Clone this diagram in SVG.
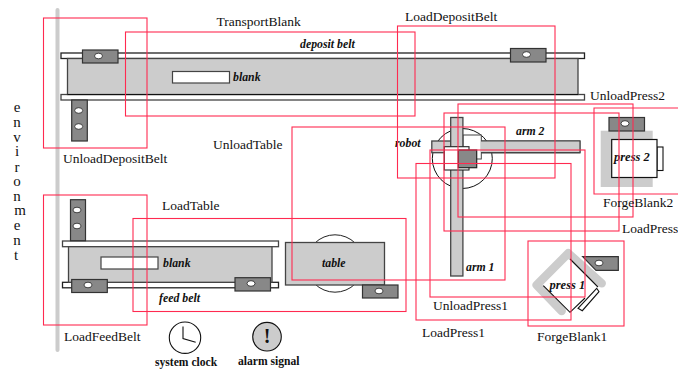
<svg xmlns="http://www.w3.org/2000/svg" width="678" height="370" viewBox="0 0 678 370">
<style>
text{font-family:"Liberation Serif","Times New Roman",serif;fill:#111}
.l{font-size:13.5px}
.b{font-size:11.8px;font-weight:bold;font-style:italic}
.s{font-size:11.6px;font-weight:bold}
.rail{fill:#fff;stroke:#222;stroke-width:1.3}
.body{fill:#ccc;stroke:#444;stroke-width:1.3}
.grip{fill:#888;stroke:#333;stroke-width:1.2}
.hole{fill:#fff;stroke:#222;stroke-width:.8}
.blank{fill:#fff;stroke:#444;stroke-width:1.2}
.r{fill:none;stroke:#ff2a50;stroke-width:1.1}
</style>
<rect width="678" height="370" fill="#fff"/>
<g id="environment">
<line x1="57.5" y1="10" x2="57.5" y2="350" stroke="#ccc" stroke-width="4" stroke-linecap="round"/>
<text style="font-size:15px" text-anchor="middle"><tspan x="17" y="111.5">e</tspan><tspan x="17" y="126.5">n</tspan><tspan x="17" y="141.5">v</tspan><tspan x="17" y="156">i</tspan><tspan x="17" y="171.5">r</tspan><tspan x="17" y="186">o</tspan><tspan x="17" y="200.5">n</tspan><tspan x="20" y="215">m</tspan><tspan x="17" y="230">e</tspan><tspan x="17" y="245">n</tspan><tspan x="16" y="260">t</tspan></text>
</g>
<g id="deposit-belt">
<rect class="rail" x="61" y="53" width="523.5" height="5.5"/>
<rect class="rail" x="61" y="94.5" width="523.5" height="5.5" style="stroke:#444"/>
<rect class="body" x="67.5" y="58.5" width="510.5" height="36"/>
<line x1="67.5" y1="94.5" x2="578" y2="94.5" stroke="#111" stroke-width="1.2"/>
<rect class="blank" x="172.5" y="71.5" width="57" height="11.5"/>
<text class="b" x="233" y="81">blank</text>
<text class="b" x="300" y="48">deposit belt</text>
<rect class="grip" x="82.5" y="50" width="35.5" height="13"/><ellipse class="hole" cx="98.5" cy="56" rx="4" ry="2.8"/>
<rect class="grip" x="510.5" y="48.5" width="35.5" height="13.5"/><ellipse class="hole" cx="526.5" cy="54.5" rx="4" ry="2.8"/>
<rect class="grip" x="71.7" y="100" width="15.6" height="41"/><ellipse class="hole" cx="78.7" cy="110.5" rx="4" ry="2.8"/><ellipse class="hole" cx="78.7" cy="126.5" rx="4" ry="2.8"/>
</g>
<g id="feed-belt">
<rect class="rail" x="62.5" y="241" width="216" height="5.7" style="stroke:#444"/>
<rect class="rail" x="62.5" y="282.3" width="216" height="5.5"/>
<rect class="body" x="68.5" y="246.7" width="203.5" height="35.6"/>
<rect class="blank" x="101" y="257" width="57" height="12"/>
<text class="b" x="163" y="267">blank</text>
<text class="b" x="159" y="302">feed belt</text>
<rect class="grip" x="71.7" y="279.5" width="35.6" height="13"/><ellipse class="hole" cx="88" cy="285" rx="4" ry="2.8"/>
<rect class="grip" x="235" y="277.7" width="35.5" height="13.3"/><ellipse class="hole" cx="251" cy="283.5" rx="4" ry="2.8"/>
<rect class="grip" x="70.5" y="199.7" width="15" height="41"/><ellipse class="hole" cx="77" cy="210" rx="4" ry="2.8"/><ellipse class="hole" cx="77" cy="226" rx="4" ry="2.8"/>
</g>
<g id="table">
<circle cx="335" cy="263.5" r="28.7" fill="#fff" stroke="#222" stroke-width="1"/>
<rect class="body" x="285.5" y="242.5" width="99" height="42.5"/>
<text class="b" x="322" y="267">table</text>
<rect class="grip" x="362.5" y="285" width="35.5" height="13"/><ellipse class="hole" cx="379" cy="291" rx="4" ry="2.8"/>
</g>
<g id="system-clock">
<circle cx="185" cy="337.7" r="15.7" fill="#fff" stroke="#111" stroke-width="1.1"/>
<polyline points="183,326.5 183,338.5 195.7,342.3" fill="none" stroke="#111" stroke-width="1.1"/>
<text class="s" x="155" y="366">system clock</text>
</g>
<g id="alarm-signal">
<circle cx="267" cy="336.7" r="14.3" fill="#ccc" stroke="#111" stroke-width="1.1"/>
<text x="267" y="343" text-anchor="middle" style="font-size:20px;font-weight:bold">!</text>
<text class="s" x="238" y="365">alarm signal</text>
</g>
<g id="robot">
<circle cx="462.3" cy="158.500" r="30" fill="#fff" stroke="#111" stroke-width="1"/>
<rect class="body" x="431.800" y="141" width="148" height="11.700"/>
<rect x="463" y="135" width="18.300" height="24" fill="#fff" stroke="#444" stroke-width="1"/>
<rect x="481" y="141" width="99" height="11.700" fill="#ccc"/>
<path d="M481 141H580V152.700H481" fill="none" stroke="#444" stroke-width="1.200"/>
<rect class="body" x="450.700" y="117.500" width="12.200" height="158.500"/>
<rect x="444.300" y="146.700" width="24.700" height="23.300" fill="#fff" stroke="#222" stroke-width="1.100"/>
<rect x="458.300" y="150" width="18.400" height="17.700" fill="#888" stroke="#222" stroke-width="1.200"/>
<text class="b" x="395" y="147">robot</text>
<text class="b" x="516" y="135">arm 2</text>
<text class="b" x="466" y="271">arm 1</text>
</g>
<g id="press-2">
<rect x="600.700" y="130.700" width="52" height="56.300" fill="#ccc"/>
<rect x="657" y="147" width="6" height="23.500" fill="#fff" stroke="#111" stroke-width="1.100"/>
<rect x="611.700" y="139.500" width="45.300" height="38" fill="#fff" stroke="#111" stroke-width="1.200"/>
<rect class="grip" x="609" y="117.500" width="35.500" height="13.500"/><ellipse class="hole" cx="625" cy="123.500" rx="4" ry="2.800"/>
<text class="b" x="614" y="161" style="font-size:12.500px">press 2</text>
</g>
<g id="press-1">
<polyline points="561.700,311 536.700,285 568.300,253.300 601.700,283.300" fill="none" stroke="#ccc" stroke-width="8.500" stroke-linecap="round" stroke-linejoin="round"/>
<polygon points="570,259 598,287 570,312.300 543.300,285.700" fill="#fff"/>
<polyline points="570,259 598,287" fill="none" stroke="#111" stroke-width="1.100"/>
<polyline points="543.300,285.700 570,312.300 585,298" fill="none" stroke="#111" stroke-width="1.100"/>
<polygon points="578,308.300 582.300,310.700 599,291.700 596.700,288.300" fill="#fff" stroke="#111" stroke-width="1.100"/>
<polygon class="grip" points="582.700,256.700 618.300,256.700 618.300,270.300 596,270.300"/><ellipse class="hole" cx="599" cy="263" rx="4" ry="2.800"/>
<text class="b" x="549.500" y="289" style="font-size:12.500px">press 1</text>
</g>
<g id="transitions">
<rect class="r" x="43.500" y="18" width="103.500" height="130"/>
<rect class="r" x="125.500" y="32" width="289.500" height="84"/>
<rect class="r" x="397.500" y="26" width="157.500" height="152"/>
<rect class="r" x="458" y="104" width="175" height="113"/>
<rect class="r" x="444" y="113" width="175" height="118"/>
<path class="r" d="M678 108H594V194H678"/>
<rect class="r" x="416" y="163.500" width="155" height="156.500"/>
<rect class="r" x="430" y="150" width="155" height="147"/>
<rect class="r" x="292" y="127" width="213" height="153"/>
<rect class="r" x="133" y="218.500" width="273" height="93"/>
<rect class="r" x="43.500" y="195" width="103.500" height="130"/>
<rect class="r" x="528" y="241" width="96" height="85"/>
</g>
<g id="labels">
<text class="l" x="216.500" y="26">TransportBlank</text>
<text class="l" x="63" y="163">UnloadDepositBelt</text>
<text class="l" x="213" y="149">UnloadTable</text>
<text class="l" x="162" y="210">LoadTable</text>
<text class="l" x="64" y="341">LoadFeedBelt</text>
<text class="l" x="405" y="21">LoadDepositBelt</text>
<text class="l" x="590" y="100">UnloadPress2</text>
<text class="l" x="603" y="207">ForgeBlank2</text>
<text class="l" x="622" y="233">LoadPress</text>
<text class="l" x="433" y="310">UnloadPress1</text>
<text class="l" x="422" y="337">LoadPress1</text>
<text class="l" x="537" y="341">ForgeBlank1</text>
</g>
<g id="connectors"/>
</svg>
